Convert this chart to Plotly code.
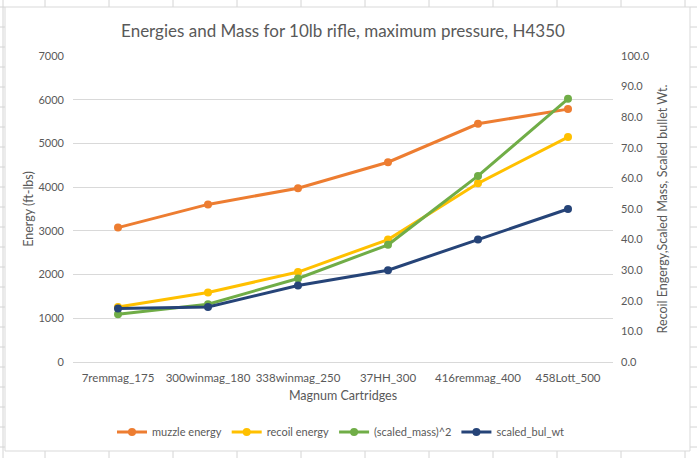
import plotly.graph_objects as go

# ---- data ----
cartridges = ["7remmag_175", "300winmag_180", "338winmag_250", "37HH_300", "416remmag_400", "458Lott_500"]
muzzle_energy = [3075, 3605, 3975, 4570, 5450, 5785]
recoil_energy = [18.0, 22.7, 29.4, 40.0, 58.4, 73.5]
scaled_mass_sq = [15.6, 18.9, 27.3, 38.3, 60.8, 86.0]
scaled_bul_wt = [17.5, 18.0, 25.0, 30.0, 40.0, 50.0]

left_ticks = [0, 1000, 2000, 3000, 4000, 5000, 6000, 7000]
right_ticks = [0, 10, 20, 30, 40, 50, 60, 70, 80, 90, 100]

W, H = 697, 458
ML, MR, MT, MB = 73, 84, 56, 96
PW, PH = W - ML - MR, H - MT - MB

FONT = "Lato"
TXT = "#595959"
GRID = "#D9D9D9"

def px(x):
    return (x - ML) / PW

def py(y):
    return (H - MB - y) / PH

fig = go.Figure()

def add(name, vals, color, axis):
    fig.add_trace(go.Scatter(
        x=cartridges, y=vals, name=name, mode="lines+markers",
        line=dict(color=color, width=3),
        marker=dict(color=color, size=8, symbol="circle"),
        yaxis=axis,
    ))

add("muzzle energy", muzzle_energy, "#ED7D31", "y")
add("recoil energy", recoil_energy, "#FFC000", "y2")
add("(scaled_mass)^2", scaled_mass_sq, "#70AD47", "y2")
add("scaled_bul_wt", scaled_bul_wt, "#264478", "y2")

# decoration: spreadsheet grid around the chart and chart border
shapes = []
cell = dict(color="#D4D4D4", width=1)
for cx in [45, 109, 173, 237, 301, 365, 429, 493, 557, 621, 685]:
    shapes.append(dict(type="line", xref="paper", yref="paper", x0=px(cx), x1=px(cx), y0=py(0), y1=py(7), line=cell, layer="below"))
    shapes.append(dict(type="line", xref="paper", yref="paper", x0=px(cx), x1=px(cx), y0=py(451), y1=py(458), line=cell, layer="below"))
for ry in range(7, 458, 20):
    shapes.append(dict(type="line", xref="paper", yref="paper", x0=px(0), x1=px(5), y0=py(ry), y1=py(ry), line=cell, layer="below"))
    shapes.append(dict(type="line", xref="paper", yref="paper", x0=px(690), x1=px(697), y0=py(ry), y1=py(ry), line=cell, layer="below"))
shapes.append(dict(type="line", xref="paper", yref="paper", x0=px(3), x1=px(3), y0=py(0), y1=py(458), line=cell, layer="below"))
shapes.append(dict(type="rect", xref="paper", yref="paper", x0=px(5), x1=px(690), y0=py(451), y1=py(7),
                   line=dict(color="#D9D9D9", width=1), fillcolor="white", layer="below"))

fig.update_layout(
    width=W, height=H,
    margin=dict(l=ML, r=MR, t=MT, b=MB),
    paper_bgcolor="white", plot_bgcolor="rgba(0,0,0,0)",
    font=dict(family=FONT, color=TXT, size=11),
    title=dict(text="Energies and Mass for 10lb rifle, maximum pressure, H4350",
               x=0.5, xref="paper", xanchor="center", y=1 - 31 / H, yanchor="middle",
               font=dict(size=17, color=TXT, family=FONT)),
    showlegend=True,
    legend=dict(orientation="h", x=px(341), xanchor="center", y=py(432), yanchor="middle",
                font=dict(size=11, color=TXT), itemwidth=30, tracegroupgap=0),
    xaxis=dict(range=[-0.5, 5.5], showgrid=False, showline=False, zeroline=False, ticks="",
               ticklabelstandoff=7,
               tickfont=dict(size=11.5, color=TXT),
               title=dict(text="Magnum Cartridges", font=dict(size=12.5, color=TXT), standoff=8)),
    yaxis=dict(range=[0, 7000], tickvals=left_ticks, showgrid=True, gridcolor=GRID, gridwidth=1,
               zeroline=True, zerolinecolor=GRID, zerolinewidth=1, showline=False, ticks="",
               ticklabelstandoff=8,
               tickfont=dict(size=11, color=TXT),
               title=dict(text="Energy (ft-lbs)", font=dict(size=12.5, color=TXT), standoff=2)),
    yaxis2=dict(range=[0, 100], tickvals=right_ticks, tickformat=".1f", overlaying="y", side="right",
                showgrid=False, zeroline=False, showline=False, ticks="",
                ticklabelstandoff=7,
                tickfont=dict(size=11, color=TXT),
                title=dict(text="Recoil Engergy,Scaled Mass, Scaled bullet Wt.", font=dict(size=12.5, color=TXT), standoff=9)),
    shapes=shapes,
)

fig.write_html("out.html", config={"displayModeBar": False},
               post_script="document.body.style.margin='0';")
